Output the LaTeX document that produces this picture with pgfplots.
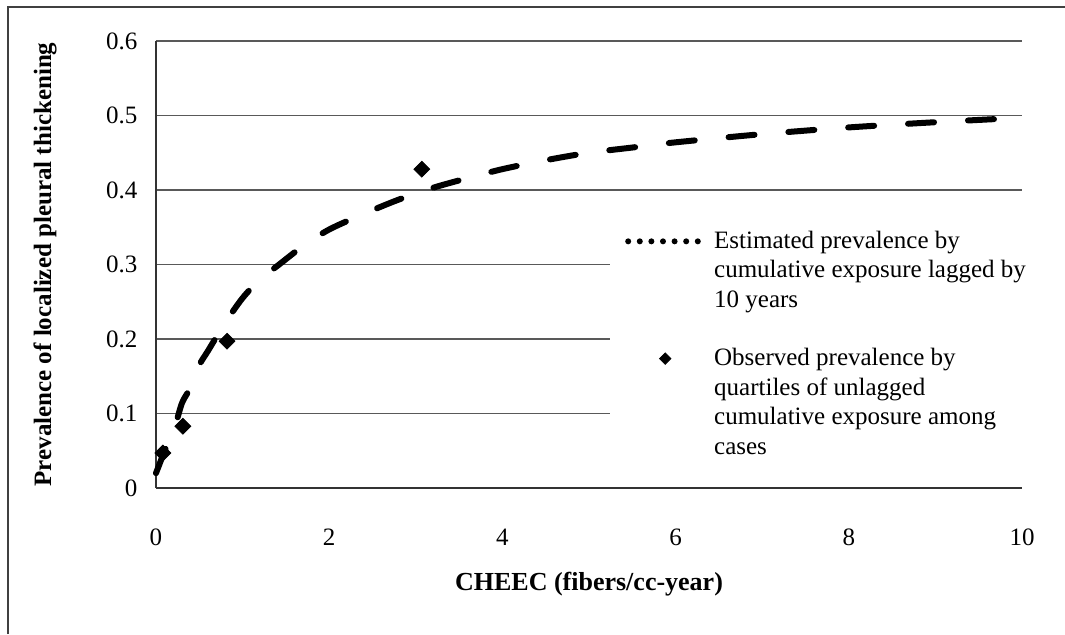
\documentclass[border=0pt]{standalone}
\usepackage{fontspec}
\setmainfont{Liberation Serif}
\usepackage{pgfplots}
\pgfplotsset{compat=1.18}
\begin{document}
\fontsize{12.5}{14.8}\selectfont
\begin{tikzpicture}
\useasboundingbox (0,0) rectangle (532.5pt,317pt);
\draw[line width=0.6pt, black!75] (4pt,0) -- (4pt,313.5pt) -- (532.5pt,313.5pt);
\begin{axis}[
  at={(78pt,73pt)}, anchor=south west,
  scale only axis, width=433pt, height=223.5pt,
  xmin=0, xmax=10, ymin=0, ymax=0.6,
  axis x line=bottom, axis y line=left,
  axis line style={-, line width=0.7pt, black!80},
  xtick={0,2,4,6,8,10},
  ytick={0,0.1,0.2,0.3,0.4,0.5,0.6},
  major tick length=0pt,
  ymajorgrids,
  grid style={line width=0.6pt, black!65},
  /pgf/number format/assume math mode=true,
  yticklabel style={/pgf/number format/fixed, /pgf/number format/precision=1, xshift=-5pt},
  xticklabel style={yshift=-16pt},
  ticklabel style={font=\fontsize{12.5}{14}\selectfont},
  ylabel={\textbf{Prevalence of localized pleural thickening}},
  ylabel style={at={(axis description cs:-0.128,0.5)}, anchor=center, font=\fontsize{12.5}{14}\selectfont},
  xlabel={\textbf{CHEEC (fibers/cc-year)}},
  xlabel style={at={(axis description cs:0.5,-0.215)}, anchor=center, font=\fontsize{13}{15}\selectfont},
  legend style={at={(axis description cs:0.524,0.63)}, anchor=north west,
    draw=none, fill=white, row sep=14.5pt, inner xsep=7pt, inner ysep=10pt,
    cells={align=left}, font=\fontsize{12.5}{14.8}\selectfont},
  legend cell align=left,
  clip=false,
]
\addplot[black, line width=3pt, line cap=round, dash pattern=on 13pt off 17pt, smooth,
  legend image code/.code={\draw[black, line width=3pt, line cap=round, dash pattern=on 0pt off 5.8pt] (2pt,14.8pt) -- (37pt,14.8pt); \path[draw=none] (0pt,0pt) -- (43pt,0pt);}]
coordinates {
(0,0.02) (0.05,0.035) (0.1,0.05) (0.2,0.075) (0.3,0.114) (0.4,0.135) (0.5,0.165) (0.6,0.184)
(0.8,0.222) (1.0,0.255) (1.2,0.28) (1.4,0.298) (1.7,0.325) (2.0,0.347) (2.4,0.368)
(2.8,0.387) (3.2,0.403) (3.6,0.416) (4.0,0.428) (4.5,0.44) (5.0,0.45) (5.5,0.457)
(6.0,0.464) (7.0,0.475) (8.0,0.484) (9.0,0.491) (10.0,0.497)
};
\addlegendentry{Estimated prevalence by\\cumulative exposure lagged by\\10 years}
\addplot[only marks, mark=square*, mark size=2.8pt, mark options={rotate=45, black, fill=black},
  legend image code/.code={\draw[mark=square*, mark size=2pt, mark options={rotate=45, black, fill=black}] plot coordinates {(20.5pt,22.2pt)}; \path[draw=none] (0pt,0pt) -- (43pt,0pt);}]
coordinates {(0.08,0.047) (0.31,0.083) (0.82,0.197) (3.07,0.428)};
\addlegendentry{Observed prevalence by\\quartiles of unlagged\\cumulative exposure among\\cases}
\end{axis}
\end{tikzpicture}
\end{document}
